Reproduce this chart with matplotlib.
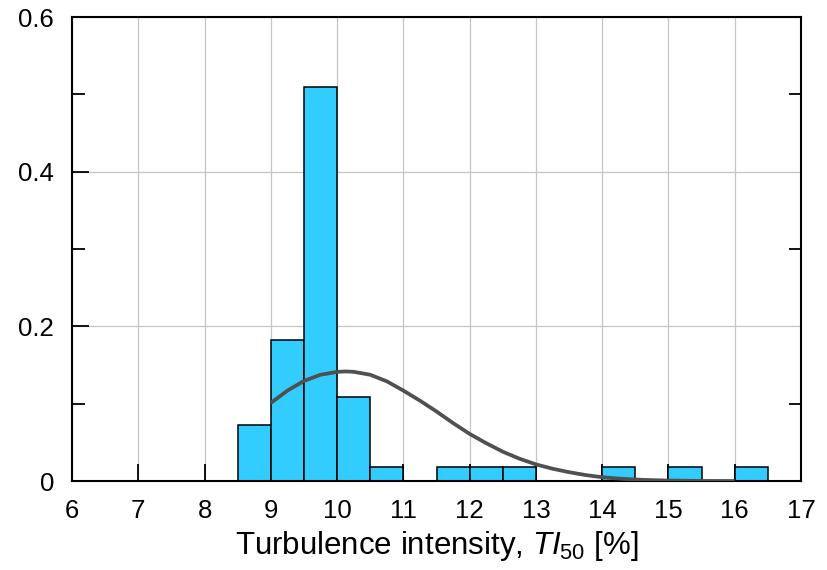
import matplotlib
matplotlib.use("Agg")
import matplotlib.pyplot as plt
from matplotlib.ticker import MultipleLocator

plt.rcParams["font.family"] = ["Liberation Sans", "DejaVu Sans"]
plt.rcParams["mathtext.fontset"] = "custom"
plt.rcParams["mathtext.rm"] = "Liberation Sans"
plt.rcParams["mathtext.it"] = "Liberation Sans:italic"

# Histogram of TI50 (relative frequency per 0.5 % bin)
bin_left = [8.5, 9.0, 9.5, 10.0, 10.5, 11.5, 12.0, 12.5, 14.0, 15.0, 16.0]
rel_freq = [0.073, 0.182, 0.509, 0.109, 0.018, 0.018, 0.018, 0.018, 0.018, 0.018, 0.018]
bin_width = 0.5

# Fitted distribution curve
fit_x = [9.0, 9.25, 9.5, 9.75, 10.0, 10.125, 10.25, 10.5, 10.75, 11.0, 11.25,
         11.5, 11.75, 12.0, 12.25, 12.5, 12.75, 13.0, 13.25, 13.5, 13.75,
         14.0, 14.25, 14.5, 14.75, 15.0, 15.5, 16.0]
fit_y = [0.101, 0.117, 0.1295, 0.1375, 0.1412, 0.1418, 0.1413, 0.1375, 0.129,
         0.117, 0.104, 0.090, 0.075, 0.061, 0.049, 0.038, 0.029, 0.0216,
         0.016, 0.0115, 0.0078, 0.0050, 0.0032, 0.0020, 0.0012, 0.0007,
         0.0002, 0.0001]

x_ticks = list(range(6, 18))
y_ticks = [0, 0.2, 0.4, 0.6]
y_labels = ["0", "0.2", "0.4", "0.6"]

fig = plt.figure(figsize=(8.28, 5.70), dpi=100)
ax = fig.add_axes([0.087, 0.156, 0.8804, 0.814])

ax.bar(bin_left, rel_freq, width=bin_width, align="edge",
       color="#33CCFF", edgecolor="black", linewidth=1.1, zorder=2)
ax.plot(fit_x, fit_y, color="#505050", linewidth=2.7,
        solid_joinstyle="round", solid_capstyle="butt", zorder=3)

ax.set_xlim(6, 17)
ax.set_ylim(0, 0.6)
ax.set_xticks(x_ticks)
ax.set_yticks(y_ticks)
ax.set_yticklabels(y_labels)
ax.yaxis.set_minor_locator(MultipleLocator(0.1))

ax.grid(True, which="major", color="#c4c4c4", linewidth=0.9, zorder=0)
ax.set_axisbelow(True)

for sp in ax.spines.values():
    sp.set_linewidth(1.5)
    sp.set_color("black")

ax.tick_params(axis="x", which="major", direction="in", length=12, width=1.3,
               labelsize=18.5, pad=13, top=False)
ax.tick_params(axis="y", which="major", direction="in", length=12, width=1.3,
               labelsize=18.5, pad=13, right=False)
ax.tick_params(axis="y", which="minor", direction="in", length=9, width=1.3,
               left=True, right=True)

ax.set_xlabel(r"Turbulence intensity, $TI_{50}$ [%]", fontsize=22.5, labelpad=4)

fig.savefig("out.png", dpi=100)
